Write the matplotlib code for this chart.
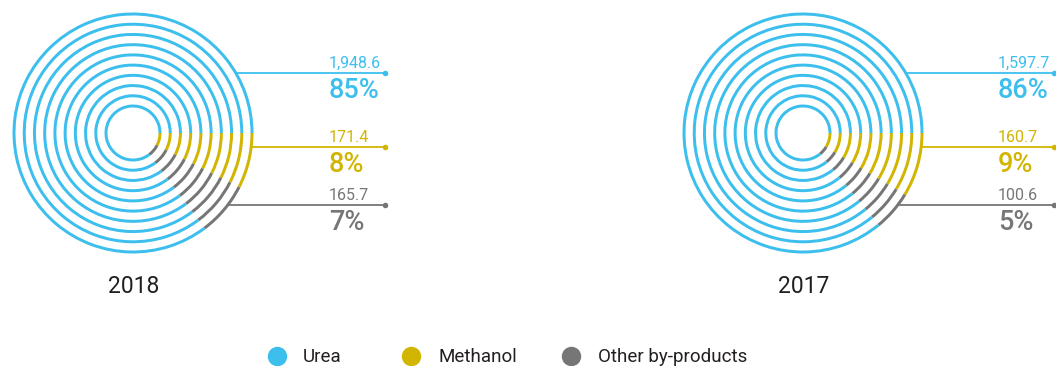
import matplotlib
matplotlib.use("Agg")
import matplotlib.pyplot as plt

plt.rcParams['font.family'] = ['Roboto', 'DejaVu Sans']

# data
years = ["2018", "2017"]
categories = ["Urea", "Methanol", "Other by-products"]
urea = [1948.6, 1597.7]
methanol = [171.4, 160.7]
other = [165.7, 100.6]
urea_pct = ["85%", "86%"]
methanol_pct = ["8%", "9%"]
other_pct = ["7%", "5%"]

colors = {"Urea": "#3DBFEE", "Methanol": "#D1B500", "Other by-products": "#767676"}
text_dark = "#231F20"

W, H = 1056, 366
fig = plt.figure(figsize=(W / 100, H / 100), dpi=100)
ax = fig.add_axes([0, 0, 1, 1])


def Y(py):
    return H - py


centers = [(133, 133), (803, 133)]
text_x = [329, 998]
dot_x = [385, 1054]
n_rings = 10
r_in, r_out = 27, 119
ring_w = 3.0

for i, year in enumerate(years):
    cx, cy = centers[i]
    vals = [methanol[i], other[i], urea[i]]
    cols = [colors["Methanol"], colors["Other by-products"], colors["Urea"]]
    for k in range(n_rings):
        r = r_in + k * (r_out - r_in) / (n_rings - 1)
        ax.pie(vals, radius=r + ring_w / 2, center=(cx, Y(cy)), startangle=0,
               counterclock=False, colors=cols,
               wedgeprops=dict(width=ring_w, edgecolor="none", linewidth=0))

    # leader lines + labels
    rows = [(73, f"{urea[i]:,.1f}", urea_pct[i], colors["Urea"]),
            (147, f"{methanol[i]:,.1f}", methanol_pct[i], colors["Methanol"]),
            (205, f"{other[i]:,.1f}", other_pct[i], colors["Other by-products"])]
    for py, val, pct, c in rows:
        dy = py - cy
        x0 = cx + (r_out ** 2 - dy ** 2) ** 0.5
        ax.plot([x0, dot_x[i]], [Y(py), Y(py)], color=c, lw=1.3,
                solid_capstyle="butt")
        ax.plot(dot_x[i], Y(py), "o", color=c, ms=4, mew=0)
        ax.text(text_x[i], Y(py - 5.5), val, color=c, fontsize=11.5,
                ha="left", va="baseline")
        ax.text(text_x[i], Y(py + 24.5), pct, color=c, fontsize=19.5,
                fontweight="medium", ha="left", va="baseline")

    ax.text(cx + 1, Y(293), year, color=text_dark, fontsize=16.5,
            ha="center", va="baseline")

# legend
leg_x = [277, 411, 571]
leg_tx = [303, 438, 598]
for cat, lx, tx in zip(categories, leg_x, leg_tx):
    ax.plot(lx, Y(356), "o", color=colors[cat], ms=14, mew=0)
    ax.text(tx, Y(362), cat, color=text_dark, fontsize=13.5,
            ha="left", va="baseline")

ax.set_xlim(0, W)
ax.set_ylim(0, H)
ax.set_aspect("auto")
ax.axis("off")

fig.savefig("out.png", dpi=100, facecolor="white")
